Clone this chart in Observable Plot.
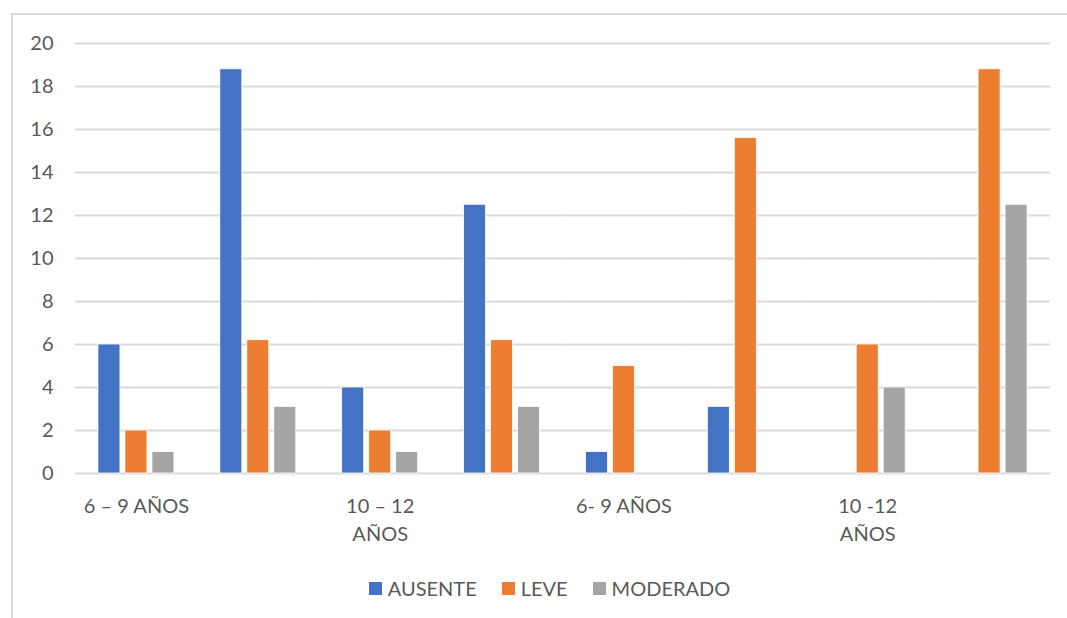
<!DOCTYPE html>
<html>
<head>
<meta charset="utf-8">
<script src="https://cdn.jsdelivr.net/npm/d3@7"></script>
<script src="https://cdn.jsdelivr.net/npm/@observablehq/plot@0.6"></script>
<style>
  html, body { margin: 0; padding: 0; background: #ffffff; }
  #wrap { position: relative; width: 1067px; height: 618px; overflow: hidden; font-family: Lato, "Open Sans", sans-serif; }
  #frame { position: absolute; left: 11px; top: 13px; width: 1100px; height: 700px; border-top: 2px solid #d9d9d9; border-left: 2px solid #d9d9d9; box-sizing: border-box; }
  #chart { position: absolute; left: 0; top: 0; }
  #legend { position: absolute; left: 0; top: 576px; width: 1067px; box-sizing: border-box; padding-left: 32px; display: flex; justify-content: center; gap: 25px; color: #595959; font-size: 20px; line-height: 24px; }
  #legend .item { display: flex; align-items: center; gap: 6px; }
  #legend .sw { width: 13px; height: 13px; display: inline-block; }
</style>
</head>
<body>
<div id="wrap">
  <div id="frame"></div>
  <div id="chart"></div>
  <div id="legend"></div>
</div>
<script>
// Age groups along the bottom; only every other group carries a label
const groups = ["g1", "g2", "g3", "g4", "g5", "g6", "g7", "g8"];
const groupLabels = ["6 – 9 AÑOS", "", "10 – 12\nAÑOS", "", "6- 9 AÑOS", "", "10 -12\nAÑOS", ""];

// Severity series
const series = ["AUSENTE", "LEVE", "MODERADO"];
const colors = ["#4472C4", "#ED7D31", "#A5A5A5"];

// Values per group for each series
const ausente  = [6, 18.8, 4, 12.5, 1, 3.1, 0, 0];
const leve     = [2, 6.2, 2, 6.2, 5, 15.6, 6, 18.8];
const moderado = [1, 3.1, 1, 3.1, 0, 0, 4, 12.5];

const yTicks = [0, 2, 4, 6, 8, 10, 12, 14, 16, 18, 20];

const seriesValues = [ausente, leve, moderado];
const rows = [];
groups.forEach((g, i) => {
  series.forEach((s, j) => {
    const v = seriesValues[j][i];
    if (v > 0) rows.push({group: g, series: s, value: v});
  });
});

const labelOf = new Map(groups.map((g, i) => [g, groupLabels[i]]));

const chart = Plot.plot({
  width: 1067,
  height: 560,
  marginLeft: 75,
  marginRight: 17,
  marginTop: 43,
  marginBottom: 87,
  style: {fontFamily: "Lato, 'Open Sans', sans-serif", fontSize: "20px", color: "#595959", background: "transparent"},
  fx: {domain: groups, paddingInner: 0, paddingOuter: 0, round: false, label: null},
  x: {domain: series, paddingInner: 0.185, paddingOuter: 0.85, round: false, axis: null},
  y: {domain: [0, 20], label: null},
  color: {domain: series, range: colors},
  marks: [
    Plot.ruleY(yTicks, {stroke: "#d9d9d9", strokeWidth: 2, strokeOpacity: 1}),
    Plot.axisY(yTicks, {tickSize: 0, tickPadding: 22, fontSize: 20, fill: "#595959", label: null}),
    Plot.axisFx({anchor: "bottom", tickSize: 0, tickPadding: 20, fontSize: 20, fill: "#595959", lineHeight: 1.4, label: null, tickFormat: (d) => labelOf.get(d)}),
    Plot.barY(rows, {fx: "group", x: "series", y: "value", fill: "series", stroke: "#ffffff", strokeWidth: 0.8})
  ]
});
document.getElementById("chart").appendChild(chart);

// Legend below the plot
const legend = document.getElementById("legend");
series.forEach((s, j) => {
  const item = document.createElement("div");
  item.className = "item";
  const sw = document.createElement("span");
  sw.className = "sw";
  sw.style.background = colors[j];
  const label = document.createElement("span");
  label.textContent = s;
  item.appendChild(sw);
  item.appendChild(label);
  legend.appendChild(item);
});
</script>
</body>
</html>
